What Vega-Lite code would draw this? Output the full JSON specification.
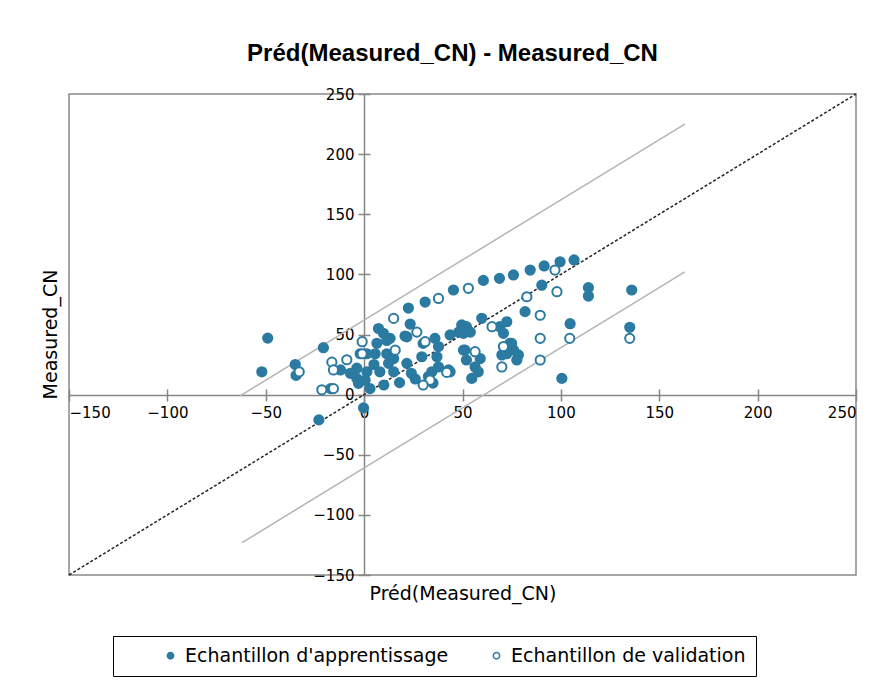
{
  "$schema": "https://vega.github.io/schema/vega-lite/v6.json",
  "width": 787,
  "height": 481,
  "autosize": {"type": "none"},
  "padding": {"left": 69, "top": 94, "right": 32, "bottom": 116},
  "background": "white",
  "title": {
    "text": "Préd(Measured_CN) - Measured_CN",
    "font": "Liberation Sans",
    "fontSize": 24,
    "fontWeight": "bold",
    "color": "black",
    "anchor": "middle",
    "frame": "group",
    "baseline": "middle",
    "offset": 9,
    "dx": -10
  },
  "config": {
    "view": {"stroke": "#898989", "strokeWidth": 1.5},
    "axis": {
      "grid": false,
      "domainColor": "#868686",
      "domainWidth": 1.5,
      "tickColor": "#868686",
      "tickWidth": 1.5,
      "tickSize": 6,
      "labelColor": "black",
      "labelFont": "DejaVu Sans",
      "labelFontSize": 15,
      "titleColor": "black",
      "titleFont": "DejaVu Sans",
      "titleFontSize": 19,
      "titleFontWeight": "normal"
    }
  },
  "resolve": {"axis": {"x": "independent", "y": "independent"}},
  "datasets": {
    "points": [
      {"x": -49, "y": 47, "Echantillon": "Echantillon d'apprentissage"},
      {"x": -52, "y": 19, "Echantillon": "Echantillon d'apprentissage"},
      {"x": -35, "y": 25, "Echantillon": "Echantillon d'apprentissage"},
      {"x": -34.6, "y": 16, "Echantillon": "Echantillon d'apprentissage"},
      {"x": -20.7, "y": 39, "Echantillon": "Echantillon d'apprentissage"},
      {"x": -23, "y": -21, "Echantillon": "Echantillon d'apprentissage"},
      {"x": -0.3, "y": -11, "Echantillon": "Echantillon d'apprentissage"},
      {"x": -12, "y": 20.5, "Echantillon": "Echantillon d'apprentissage"},
      {"x": -7, "y": 17.7, "Echantillon": "Echantillon d'apprentissage"},
      {"x": -3.7, "y": 13.5, "Echantillon": "Echantillon d'apprentissage"},
      {"x": -2.9, "y": 9.4, "Echantillon": "Echantillon d'apprentissage"},
      {"x": -3.7, "y": 22, "Echantillon": "Echantillon d'apprentissage"},
      {"x": -2, "y": 34, "Echantillon": "Echantillon d'apprentissage"},
      {"x": -17, "y": 5, "Echantillon": "Echantillon d'apprentissage"},
      {"x": 7.3, "y": 55, "Echantillon": "Echantillon d'apprentissage"},
      {"x": 9.8, "y": 51, "Echantillon": "Echantillon d'apprentissage"},
      {"x": 23.4, "y": 58.7, "Echantillon": "Echantillon d'apprentissage"},
      {"x": 20.8, "y": 48.7, "Echantillon": "Echantillon d'apprentissage"},
      {"x": 13.2, "y": 46.8, "Echantillon": "Echantillon d'apprentissage"},
      {"x": 6.5, "y": 42.7, "Echantillon": "Echantillon d'apprentissage"},
      {"x": 5.6, "y": 34, "Echantillon": "Echantillon d'apprentissage"},
      {"x": 1.4, "y": 34, "Echantillon": "Echantillon d'apprentissage"},
      {"x": 11.5, "y": 34, "Echantillon": "Echantillon d'apprentissage"},
      {"x": 15, "y": 30, "Echantillon": "Echantillon d'apprentissage"},
      {"x": 12.4, "y": 26, "Echantillon": "Echantillon d'apprentissage"},
      {"x": 8, "y": 19, "Echantillon": "Echantillon d'apprentissage"},
      {"x": 1.4, "y": 19, "Echantillon": "Echantillon d'apprentissage"},
      {"x": 0.5, "y": 12, "Echantillon": "Echantillon d'apprentissage"},
      {"x": 15, "y": 19, "Echantillon": "Echantillon d'apprentissage"},
      {"x": 21.7, "y": 26, "Echantillon": "Echantillon d'apprentissage"},
      {"x": 24, "y": 17.7, "Echantillon": "Echantillon d'apprentissage"},
      {"x": 29.3, "y": 31.5, "Echantillon": "Echantillon d'apprentissage"},
      {"x": 32.7, "y": 15, "Echantillon": "Echantillon d'apprentissage"},
      {"x": 34.4, "y": 19, "Echantillon": "Echantillon d'apprentissage"},
      {"x": 36, "y": 46.8, "Echantillon": "Echantillon d'apprentissage"},
      {"x": 37.8, "y": 40, "Echantillon": "Echantillon d'apprentissage"},
      {"x": 37, "y": 31.5, "Echantillon": "Echantillon d'apprentissage"},
      {"x": 37.8, "y": 23, "Echantillon": "Echantillon d'apprentissage"},
      {"x": 42.9, "y": 20.5, "Echantillon": "Echantillon d'apprentissage"},
      {"x": 43.7, "y": 49.6, "Echantillon": "Echantillon d'apprentissage"},
      {"x": 48, "y": 52, "Echantillon": "Echantillon d'apprentissage"},
      {"x": 49.6, "y": 58, "Echantillon": "Echantillon d'apprentissage"},
      {"x": 50.5, "y": 37, "Echantillon": "Echantillon d'apprentissage"},
      {"x": 21.7, "y": 48, "Echantillon": "Echantillon d'apprentissage"},
      {"x": 30, "y": 42.6, "Echantillon": "Echantillon d'apprentissage"},
      {"x": 22.5, "y": 72, "Echantillon": "Echantillon d'apprentissage"},
      {"x": 31, "y": 77, "Echantillon": "Echantillon d'apprentissage"},
      {"x": 11.5, "y": 45, "Echantillon": "Echantillon d'apprentissage"},
      {"x": 35, "y": 9.6, "Echantillon": "Echantillon d'apprentissage"},
      {"x": 5, "y": 25, "Echantillon": "Echantillon d'apprentissage"},
      {"x": 3, "y": 5, "Echantillon": "Echantillon d'apprentissage"},
      {"x": 18, "y": 10, "Echantillon": "Echantillon d'apprentissage"},
      {"x": 26, "y": 13, "Echantillon": "Echantillon d'apprentissage"},
      {"x": 10, "y": 8, "Echantillon": "Echantillon d'apprentissage"},
      {"x": 45.4, "y": 87, "Echantillon": "Echantillon d'apprentissage"},
      {"x": 60.6, "y": 95, "Echantillon": "Echantillon d'apprentissage"},
      {"x": 68.8, "y": 96.7, "Echantillon": "Echantillon d'apprentissage"},
      {"x": 75.9, "y": 99.5, "Echantillon": "Echantillon d'apprentissage"},
      {"x": 84.4, "y": 103.6, "Echantillon": "Echantillon d'apprentissage"},
      {"x": 91.5, "y": 107, "Echantillon": "Echantillon d'apprentissage"},
      {"x": 99.6, "y": 110.5, "Echantillon": "Echantillon d'apprentissage"},
      {"x": 106.7, "y": 112, "Echantillon": "Echantillon d'apprentissage"},
      {"x": 90.3, "y": 91, "Echantillon": "Echantillon d'apprentissage"},
      {"x": 114, "y": 89, "Echantillon": "Echantillon d'apprentissage"},
      {"x": 114, "y": 82, "Echantillon": "Echantillon d'apprentissage"},
      {"x": 136, "y": 87, "Echantillon": "Echantillon d'apprentissage"},
      {"x": 59.8, "y": 63.5, "Echantillon": "Echantillon d'apprentissage"},
      {"x": 81.8, "y": 69, "Echantillon": "Echantillon d'apprentissage"},
      {"x": 69, "y": 56.5, "Echantillon": "Echantillon d'apprentissage"},
      {"x": 72.5, "y": 60.6, "Echantillon": "Echantillon d'apprentissage"},
      {"x": 70.8, "y": 51, "Echantillon": "Echantillon d'apprentissage"},
      {"x": 52, "y": 56.5, "Echantillon": "Echantillon d'apprentissage"},
      {"x": 54, "y": 52, "Echantillon": "Echantillon d'apprentissage"},
      {"x": 50.5, "y": 51, "Echantillon": "Echantillon d'apprentissage"},
      {"x": 51.3, "y": 37, "Echantillon": "Echantillon d'apprentissage"},
      {"x": 52, "y": 28.8, "Echantillon": "Echantillon d'apprentissage"},
      {"x": 59, "y": 30, "Echantillon": "Echantillon d'apprentissage"},
      {"x": 56.4, "y": 23, "Echantillon": "Echantillon d'apprentissage"},
      {"x": 58, "y": 19, "Echantillon": "Echantillon d'apprentissage"},
      {"x": 54.7, "y": 13.5, "Echantillon": "Echantillon d'apprentissage"},
      {"x": 74, "y": 42.6, "Echantillon": "Echantillon d'apprentissage"},
      {"x": 76, "y": 37, "Echantillon": "Echantillon d'apprentissage"},
      {"x": 72.5, "y": 34, "Echantillon": "Echantillon d'apprentissage"},
      {"x": 78.4, "y": 33, "Echantillon": "Echantillon d'apprentissage"},
      {"x": 77.6, "y": 28.8, "Echantillon": "Echantillon d'apprentissage"},
      {"x": 100.5, "y": 13.5, "Echantillon": "Echantillon d'apprentissage"},
      {"x": 104.7, "y": 59, "Echantillon": "Echantillon d'apprentissage"},
      {"x": 135, "y": 56, "Echantillon": "Echantillon d'apprentissage"},
      {"x": 43.7, "y": 19, "Echantillon": "Echantillon d'apprentissage"},
      {"x": 70, "y": 33, "Echantillon": "Echantillon d'apprentissage"},
      {"x": 75, "y": 42.6, "Echantillon": "Echantillon d'apprentissage"},
      {"x": -33, "y": 19, "Echantillon": "Echantillon de validation"},
      {"x": -16.4, "y": 27, "Echantillon": "Echantillon de validation"},
      {"x": -8.8, "y": 29, "Echantillon": "Echantillon de validation"},
      {"x": -15.6, "y": 20.5, "Echantillon": "Echantillon de validation"},
      {"x": -21.5, "y": 4, "Echantillon": "Echantillon de validation"},
      {"x": -15.6, "y": 5, "Echantillon": "Echantillon de validation"},
      {"x": -1, "y": 44, "Echantillon": "Echantillon de validation"},
      {"x": -1, "y": 34, "Echantillon": "Echantillon de validation"},
      {"x": 15, "y": 63.4, "Echantillon": "Echantillon de validation"},
      {"x": 26.8, "y": 52, "Echantillon": "Echantillon de validation"},
      {"x": 31, "y": 44, "Echantillon": "Echantillon de validation"},
      {"x": 15.8, "y": 37, "Echantillon": "Echantillon de validation"},
      {"x": 33.5, "y": 12, "Echantillon": "Echantillon de validation"},
      {"x": 30, "y": 8, "Echantillon": "Echantillon de validation"},
      {"x": 37.8, "y": 80, "Echantillon": "Echantillon de validation"},
      {"x": 53, "y": 88.4, "Echantillon": "Echantillon de validation"},
      {"x": 97, "y": 103.6, "Echantillon": "Echantillon de validation"},
      {"x": 82.7, "y": 81.4, "Echantillon": "Echantillon de validation"},
      {"x": 98, "y": 85.6, "Echantillon": "Echantillon de validation"},
      {"x": 89.5, "y": 66, "Echantillon": "Echantillon de validation"},
      {"x": 65, "y": 56.5, "Echantillon": "Echantillon de validation"},
      {"x": 89.5, "y": 46.8, "Echantillon": "Echantillon de validation"},
      {"x": 104.5, "y": 46.8, "Echantillon": "Echantillon de validation"},
      {"x": 135, "y": 46.8, "Echantillon": "Echantillon de validation"},
      {"x": 56.4, "y": 35.7, "Echantillon": "Echantillon de validation"},
      {"x": 70.8, "y": 40, "Echantillon": "Echantillon de validation"},
      {"x": 70, "y": 23, "Echantillon": "Echantillon de validation"},
      {"x": 89.5, "y": 28.8, "Echantillon": "Echantillon de validation"},
      {"x": 42, "y": 18.5, "Echantillon": "Echantillon de validation"}
    ],
    "bands": [
      {"x": -63, "y": -1, "band": "upper"},
      {"x": -30, "y": 32, "band": "upper"},
      {"x": 0, "y": 62, "band": "upper"},
      {"x": 50, "y": 112, "band": "upper"},
      {"x": 100, "y": 162, "band": "upper"},
      {"x": 163, "y": 225, "band": "upper"},
      {"x": -62, "y": -123, "band": "lower"},
      {"x": 0, "y": -61, "band": "lower"},
      {"x": 50, "y": -11, "band": "lower"},
      {"x": 100, "y": 39, "band": "lower"},
      {"x": 134, "y": 73, "band": "lower"},
      {"x": 163, "y": 102, "band": "lower"}
    ],
    "diag": [
      {"x": -150, "y": -150},
      {"x": 250, "y": 250}
    ]
  },
  "layer": [
    {
      "data": {"name": "bands"},
      "mark": {"type": "line", "color": "#B4B4B4", "strokeWidth": 1.5},
      "encoding": {
        "x": {
          "field": "x",
          "type": "quantitative",
          "scale": {"domain": [-150, 250], "nice": false, "zero": false},
          "axis": {
            "orient": "bottom",
            "offset": -180,
            "values": [-150, -100, -50, 0, 50, 100, 150, 200, 250],
            "tickSize": -6,
            "labels": false,
            "domain": false,
            "title": null
          }
        },
        "y": {
          "field": "y",
          "type": "quantitative",
          "scale": {"domain": [-150, 250], "nice": false, "zero": false},
          "axis": {
            "orient": "left",
            "offset": -295,
            "values": [-150, -100, -50, 0, 50, 100, 150, 200, 250],
            "tickSize": -6,
            "labels": false,
            "domain": false,
            "title": null
          }
        },
        "detail": {"field": "band"}
      }
    },
    {
      "data": {"name": "diag"},
      "mark": {"type": "line", "color": "#222222", "strokeWidth": 1.5, "strokeDash": [3, 2]},
      "encoding": {
        "x": {"field": "x", "type": "quantitative", "axis": null},
        "y": {"field": "y", "type": "quantitative", "axis": null}
      }
    },
    {
      "data": {"name": "points"},
      "mark": {"type": "point", "shape": "circle", "size": 85, "stroke": "#2B7AA1", "strokeWidth": 2, "opacity": 1, "filled": false},
      "encoding": {
        "x": {
          "field": "x",
          "type": "quantitative",
          "axis": {
            "orient": "bottom",
            "offset": -180,
            "values": [-150, -100, -50, 0, 50, 100, 150, 200, 250],
            "title": "Préd(Measured_CN)",
            "titleBaseline": "middle",
            "titleY": 198,
            "labelPadding": 4
          }
        },
        "y": {
          "field": "y",
          "type": "quantitative",
          "axis": {
            "orient": "left",
            "offset": -295,
            "values": [-150, -100, -50, 0, 50, 100, 150, 200, 250],
            "title": "Measured_CN",
            "titleAngle": 270,
            "titleBaseline": "middle",
            "titleX": -314,
            "titleY": 240,
            "labelPadding": 4
          }
        },
        "fill": {
          "field": "Echantillon",
          "type": "nominal",
          "scale": {"domain": ["Echantillon d'apprentissage", "Echantillon de validation"], "range": ["#2B7AA1", "white"]},
          "legend": {
            "orient": "none",
            "legendX": 44,
            "legendY": 542,
            "direction": "horizontal",
            "title": " ",
            "titleOrient": "left",
            "titlePadding": 38,
            "titleFontSize": 2,
            "strokeColor": "black",
            "padding": 10,
            "symbolType": "circle",
            "symbolSize": 40,
            "symbolStrokeColor": "#2B7AA1",
            "symbolStrokeWidth": 1.5,
            "labelFont": "DejaVu Sans",
            "labelFontSize": 19,
            "labelColor": "black",
            "labelOffset": 5,
            "columnPadding": 38,
            "labelLimit": 400,
            "fillColor": "white"
          }
        }
      }
    }
  ]
}
